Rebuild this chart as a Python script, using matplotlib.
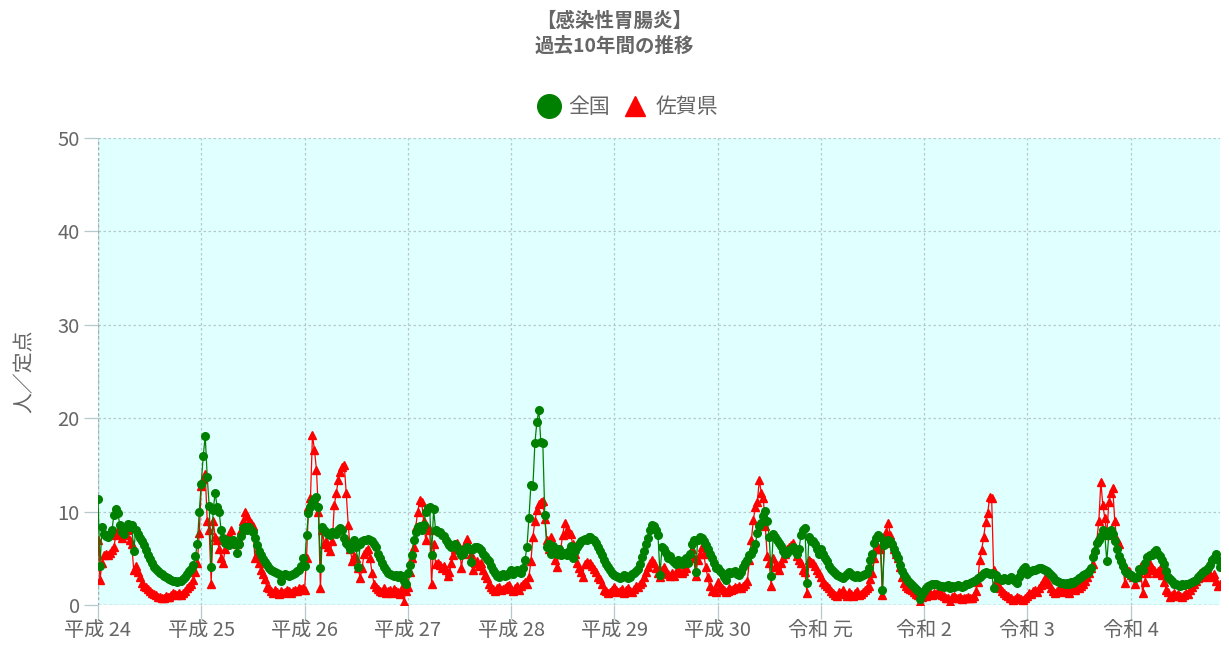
import matplotlib
matplotlib.use("Agg")
import matplotlib.pyplot as plt
from matplotlib.lines import Line2D

plt.rcParams['font.family'] = ['Noto Sans CJK JP', 'DejaVu Sans']

title_lines = ["【感染性胃腸炎】", "過去10年間の推移"]
series_names = ["全国", "佐賀県"]
year_labels = ["平成 24", "平成 25", "平成 26", "平成 27", "平成 28", "平成 29",
               "平成 30", "令和 元", "令和 2", "令和 3", "令和 4"]
y_label = "人／定点"

# 全国 (national) weekly values per year
g_h24 = [11.3, 4.2, 8.3, 7.6, 7.4, 7.3, 7.6, 8.0, 9.6, 10.3, 9.8, 8.6, 7.8, 7.6, 8.3, 8.7, 8.4, 8.6, 5.8,
         8.0, 7.6, 7.2, 6.8, 6.4, 5.9, 5.3, 4.9, 4.5, 4.1, 3.9, 3.6, 3.4, 3.3, 3.1, 3.0, 2.9, 2.8, 2.7,
         2.6, 2.6, 2.5, 2.6, 2.6, 2.8, 3.0, 3.3, 3.6, 3.9, 4.3, 5.2, 6.5, 10.0]
g_h25 = [13.0, 16.0, 18.1, 13.7, 10.6, 4.1, 10.2, 12.0, 10.5, 10.0, 8.0, 7.2, 6.6, 7.0, 6.4, 6.8, 7.0, 6.5,
         5.6, 6.5, 7.4, 8.2, 8.4, 8.0, 8.3, 8.0, 7.8, 7.2, 6.4, 5.8, 5.3, 4.9, 4.6, 4.3, 4.0, 3.8, 3.6, 3.5,
         3.4, 3.3, 2.6, 3.2, 3.3, 3.2, 3.1, 3.2, 3.3, 3.4, 3.6, 3.8, 4.2, 5.0]
g_h26 = [4.2, 7.5, 9.8, 10.5, 11.0, 11.3, 11.6, 10.5, 4.0, 8.4, 8.0, 7.8, 7.6, 7.5, 7.8, 7.7, 7.6, 8.0,
         8.2, 8.0, 7.2, 6.6, 6.4, 6.0, 6.5, 7.0, 6.2, 4.1, 6.5, 6.8, 7.0, 7.0, 7.1, 7.0, 6.8, 6.5, 6.2,
         5.5, 5.0, 4.5, 4.1, 3.7, 3.4, 3.3, 3.2, 3.1, 3.2, 3.0, 3.2, 3.1, 2.6, 2.3]
g_h27 = [3.4, 4.3, 5.3, 7.0, 7.8, 8.3, 8.5, 8.0, 8.6, 10.0, 10.4, 10.5, 5.3, 10.3, 8.0, 7.8, 7.8, 7.5,
         7.4, 7.0, 6.6, 6.4, 6.2, 6.3, 6.5, 6.2, 5.8, 5.3, 5.5, 6.0, 6.2, 6.0, 4.6, 6.0, 6.2, 6.2, 6.1,
         5.9, 5.5, 5.2, 4.9, 4.7, 4.2, 3.8, 3.4, 3.1, 3.0, 3.2, 3.3, 3.1, 3.2, 3.4]
g_h28 = [3.7, 3.3, 3.6, 3.8, 3.5, 3.4, 4.0, 4.8, 6.2, 9.3, 12.9, 12.7, 17.3, 19.6, 20.9, 17.4, 17.3, 9.6,
         6.2, 6.5, 5.5, 6.3, 5.8, 5.5, 6.0, 5.4, 5.5, 5.6, 5.3, 5.8, 6.3, 5.0, 5.8, 6.2, 6.5, 6.8, 7.0,
         7.1, 7.0, 7.3, 7.3, 7.1, 7.0, 6.6, 6.2, 5.8, 5.3, 4.8, 4.4, 4.1, 3.7, 3.4]
g_h29 = [3.2, 3.1, 3.0, 2.9, 3.0, 3.2, 3.1, 2.9, 3.0, 3.3, 3.4, 3.6, 3.9, 4.4, 5.1, 5.8, 6.5, 7.2, 8.0,
         8.6, 8.5, 8.0, 7.5, 3.2, 6.2, 6.0, 5.6, 5.0, 5.2, 4.8, 4.6, 4.4, 4.8, 4.6, 4.4, 4.8, 5.0, 4.5,
         5.5, 6.5, 7.0, 3.5, 7.0, 7.3, 7.2, 6.8, 6.4, 6.0, 5.5, 5.0, 4.5, 4.0]
g_h30 = [4.0, 3.6, 3.4, 3.0, 2.7, 3.3, 3.5, 3.4, 3.5, 3.6, 3.3, 3.2, 3.5, 4.1, 4.5, 4.8, 5.3, 5.5, 5.9,
         6.5, 7.7, 8.5, 8.8, 9.5, 10.1, 9.0, 7.3, 3.1, 7.6, 7.3, 7.0, 6.6, 6.3, 5.8, 5.5, 5.6, 5.9, 6.0,
         6.2, 5.8, 5.5, 6.0, 7.5, 8.0, 8.2, 2.4, 7.3, 6.8, 6.8, 6.5, 6.0, 5.5]
g_r01 = [6.0, 5.5, 5.0, 4.7, 4.2, 3.9, 3.6, 3.4, 3.2, 3.1, 3.0, 2.9, 3.1, 3.3, 3.5, 3.3, 3.1, 3.0, 3.2,
         3.0, 3.1, 3.2, 3.3, 3.4, 4.0, 4.8, 5.5, 6.6, 7.2, 7.5, 7.3, 1.6, 6.4, 6.6, 7.0, 6.8, 6.5, 6.0,
         5.5, 5.0, 4.3, 3.6, 3.2, 2.9, 2.6, 2.4, 2.1, 1.9, 1.7, 1.5, 0.6, 1.2]
g_r02 = [1.5, 1.8, 2.0, 2.1, 2.2, 2.3, 2.2, 2.1, 2.0, 2.0, 1.9, 2.0, 2.1, 1.8, 2.0, 1.9, 2.0, 2.1, 2.0,
         1.9, 2.0, 2.2, 2.3, 2.4, 2.5, 2.6, 2.7, 2.9, 3.0, 3.2, 3.4, 3.5, 3.4, 3.3, 3.4, 1.8, 3.2, 2.9,
         2.8, 2.7, 2.9, 2.8, 2.7, 2.9, 3.0, 2.8, 2.6, 2.4, 3.0, 3.5, 3.9, 4.1]
g_r03 = [3.3, 3.5, 3.6, 3.7, 3.8, 3.9, 4.0, 4.0, 3.9, 3.8, 3.6, 3.4, 3.2, 3.0, 2.7, 2.6, 2.5, 2.4, 2.4,
         2.3, 2.4, 2.3, 2.5, 2.4, 2.6, 2.7, 2.9, 3.0, 3.2, 3.3, 3.4, 3.6, 4.0, 5.1, 5.8, 6.6, 7.0, 7.4,
         8.0, 7.5, 4.7, 7.5, 8.0, 7.6, 6.8, 6.0, 5.2, 4.7, 4.2, 3.6, 3.4, 3.3]
g_r04 = [3.2, 3.0, 2.9, 3.0, 3.9, 3.7, 3.7, 4.5, 5.1, 5.2, 5.3, 5.4, 5.7, 5.9, 5.5, 5.2, 4.8, 4.4, 3.6,
         3.0, 2.8, 2.6, 2.3, 2.2, 2.1, 2.0, 2.2, 2.1, 2.3, 2.2, 2.4, 2.5, 2.6, 2.7, 3.0, 3.2, 3.4, 3.6,
         3.7, 4.0, 4.3, 4.8, 5.0, 5.5, 4.8, 4.1]

# 佐賀県 (Saga) weekly values per year
r_h24 = [7.0, 2.7, 4.5, 5.3, 5.5, 5.3, 5.6, 5.9, 6.2, 7.5, 8.0, 7.6, 7.2, 7.8, 7.5, 8.0, 7.0, 6.5, 3.7,
         4.2, 3.5, 3.0, 2.4, 2.0, 1.9, 1.7, 1.5, 1.3, 1.2, 1.1, 0.9, 0.9, 0.8, 0.8, 1.0, 0.9, 0.9, 1.1,
         1.3, 1.2, 1.1, 1.3, 1.1, 1.3, 1.5, 1.8, 2.0, 2.3, 2.7, 3.5, 4.5, 7.7]
r_h25 = [12.7, 13.5, 14.0, 9.0, 8.0, 2.3, 9.0, 7.3, 7.0, 6.0, 5.0, 4.5, 6.0, 7.2, 7.5, 8.0, 7.0, 6.7, 6.5,
         7.0, 8.0, 9.0, 10.0, 9.5, 9.0, 8.8, 8.5, 5.0, 5.5, 4.5, 3.7, 3.3, 2.8, 1.9, 1.8, 1.5, 1.3, 1.6,
         1.4, 1.2, 1.5, 1.3, 1.4, 1.6, 1.5, 1.3, 1.5, 1.6, 1.5, 1.8, 1.7, 1.8]
r_h26 = [1.6, 5.0, 10.5, 11.5, 18.2, 16.6, 14.5, 10.0, 1.8, 8.0, 6.5, 6.8, 6.2, 5.8, 6.8, 10.7, 12.0, 13.4,
         14.2, 14.8, 15.0, 12.0, 8.6, 6.0, 4.7, 5.2, 5.0, 4.0, 2.9, 4.0, 5.5, 5.8, 6.0, 5.0, 3.4, 2.3, 1.9,
         1.7, 1.5, 1.4, 1.8, 1.3, 1.5, 1.6, 1.3, 1.7, 1.5, 1.4, 1.2, 1.8, 0.3, 1.5]
r_h27 = [1.9, 3.5, 5.0, 6.2, 8.4, 10.0, 11.2, 11.0, 9.0, 7.0, 8.2, 8.0, 2.3, 6.5, 4.4, 4.5, 4.3, 4.0, 4.2,
         3.8, 3.1, 3.5, 4.5, 5.3, 6.0, 6.6, 6.2, 4.0, 5.5, 6.5, 7.1, 6.2, 5.5, 3.7, 4.5, 4.7, 4.2, 4.5,
         3.8, 3.2, 2.9, 2.3, 1.9, 1.7, 1.5, 1.8, 1.9, 1.6, 1.7, 1.8, 2.0, 2.1]
r_h28 = [1.7, 1.5, 1.8, 2.0, 1.6, 2.0, 2.3, 2.5, 2.2, 3.0, 4.7, 7.3, 9.0, 10.2, 10.8, 11.0, 11.1, 9.2, 7.0,
         6.0, 7.3, 6.5, 4.8, 4.1, 5.5, 6.0, 7.5, 8.8, 8.0, 7.8, 7.6, 6.5, 5.5, 4.5, 4.0, 3.5, 3.0, 4.4,
         4.6, 4.4, 4.5, 4.2, 3.9, 3.5, 3.0, 2.8, 2.2, 1.6, 1.5, 1.3, 1.4, 1.6]
r_h29 = [1.9, 1.6, 1.4, 1.5, 1.7, 1.3, 1.6, 1.8, 1.5, 1.4, 1.7, 2.0, 1.9, 2.2, 2.5, 3.0, 3.5, 4.1, 4.5,
         4.8, 4.5, 4.0, 3.4, 3.0, 3.8, 4.1, 3.5, 3.3, 3.1, 3.4, 3.1, 3.5, 3.8, 3.5, 3.4, 3.6, 4.0, 4.8,
         5.5, 6.0, 5.0, 3.1, 4.8, 5.5, 6.2, 5.5, 4.1, 3.0, 2.0, 1.5, 1.6, 1.4]
r_h30 = [2.5, 2.0, 1.8, 1.6, 1.4, 1.5, 1.8, 1.6, 1.7, 1.9, 1.8, 2.0, 1.8, 2.0, 2.2, 2.6, 4.8, 7.0, 9.1,
         10.5, 11.0, 13.4, 12.0, 11.5, 8.5, 5.2, 4.5, 2.0, 5.0, 4.1, 4.3, 3.8, 4.5, 5.0, 5.5, 6.0, 6.2,
         6.4, 6.6, 6.0, 5.2, 4.8, 4.5, 3.8, 3.5, 1.3, 4.8, 4.6, 4.5, 4.2, 3.8, 3.4]
r_r01 = [3.0, 2.5, 2.2, 2.0, 1.8, 1.5, 1.3, 1.1, 1.0, 1.4, 1.3, 1.6, 1.2, 1.0, 1.4, 1.2, 1.0, 1.3, 1.5,
         1.1, 1.2, 1.4, 1.6, 1.8, 2.0, 2.8, 3.4, 5.0, 6.0, 6.2, 6.0, 1.1, 7.0, 7.8, 8.8, 7.5, 6.6, 6.0,
         5.5, 5.0, 4.1, 3.0, 2.4, 2.0, 1.8, 1.7, 1.6, 1.4, 1.2, 1.1, 0.3, 0.9]
r_r02 = [1.2, 1.0, 1.2, 1.3, 1.1, 1.3, 1.2, 1.4, 1.3, 1.1, 1.0, 0.8, 0.7, 0.3, 0.9, 1.0, 0.8, 0.7, 0.9,
         0.6, 0.7, 0.8, 0.9, 0.7, 0.8, 1.0, 1.5, 2.5, 4.8, 5.9, 7.3, 8.9, 9.8, 11.6, 11.5, 3.8, 2.6, 2.0,
         1.8, 1.5, 1.3, 1.1, 1.0, 0.8, 0.7, 0.5, 0.6, 0.9, 0.8, 0.6, 0.5, 0.8]
r_r03 = [1.0, 1.3, 1.2, 1.5, 1.6, 1.4, 1.8, 2.1, 2.5, 2.9, 2.6, 2.2, 1.8, 1.5, 1.3, 1.5, 1.7, 1.4, 1.6,
         1.9, 1.5, 1.3, 1.8, 1.7, 1.6, 1.9, 1.8, 2.0, 2.2, 2.6, 3.0, 3.4, 4.0, 4.4, 6.0, 7.0, 9.0, 13.2,
         10.7, 9.3, 7.5, 11.0, 12.0, 12.5, 9.0, 7.0, 6.5, 5.0, 4.5, 2.4, 3.8, 3.6]
r_r04 = [3.2, 3.0, 2.3, 3.0, 3.4, 4.2, 1.3, 2.5, 3.4, 3.8, 4.4, 4.0, 3.8, 3.4, 3.6, 3.9, 3.2, 2.5, 1.6,
         1.4, 0.9, 1.1, 1.3, 1.0, 1.2, 1.0, 0.9, 1.1, 1.3, 1.2, 1.6, 1.9, 2.2, 2.6, 2.9, 3.4, 3.2, 3.0,
         3.4, 3.6, 3.2, 3.0, 3.3, 2.6, 2.0, 2.2]

green_years = [g_h24, g_h25, g_h26, g_h27, g_h28, g_h29, g_h30, g_r01, g_r02, g_r03, g_r04]
red_years = [r_h24, r_h25, r_h26, r_h27, r_h28, r_h29, r_h30, r_r01, r_r02, r_r03, r_r04]

national = [v for yr in green_years for v in yr]
saga = [v for yr in red_years for v in yr]
n = min(len(national), len(saga))
national = national[:n]
saga = saga[:n]
x = list(range(n))

tick_pos = []
pos = 0
for yr in green_years:
    tick_pos.append(pos)
    pos += len(yr)

W, H = 1229, 648
fig = plt.figure(figsize=(W / 100, H / 100), dpi=100)
ax = fig.add_axes([98 / W, 1 - 605 / H, (1220 - 98) / W, (605 - 138) / H])
ax.set_facecolor('#e0ffff')

grid_c = '#b4c8ce'
ax.plot(x, saga, color='#ff0000', lw=0.9, marker='^', ms=6, mfc='#ff0000', mec='#ff0000', zorder=3)
ax.plot(x, national, color='#008000', lw=0.9, marker='o', ms=5.5, mfc='#008000', mec='#008000', zorder=4)

ax.set_xlim(0, n - 1)
ax.set_ylim(0, 50)
ax.set_yticks(range(0, 51, 10))
ax.set_xticks(tick_pos)
ax.set_xticklabels(year_labels)
ax.grid(True, color=grid_c, lw=0.9, ls=(0, (2, 2)))
ax.set_axisbelow(True)
for s in ax.spines.values():
    s.set_visible(False)
ax.tick_params(axis='both', colors=grid_c, length=10, width=0.9, labelcolor='#666666', labelsize=14.5)
ax.tick_params(axis='y', pad=3)
ax.tick_params(axis='x', pad=1)
ax.axhline(0, color='#9aaeb4', lw=1.0, ls=(0, (2, 2)), zorder=2)
ax.axvline(0, color='#9aaeb4', lw=1.0, ls=(0, (2, 2)), zorder=2)

ax.set_ylabel(y_label, color='#666666', fontsize=15, labelpad=16)

fig.text(0.5, 1 - 21 / H, title_lines[0], ha='center', va='center', fontsize=14,
         fontweight='bold', color='#666666')
fig.text(0.5, 1 - 46 / H, title_lines[1], ha='center', va='center', fontsize=14,
         fontweight='bold', color='#666666')

handles = [Line2D([], [], ls='none', marker='o', ms=17, mfc='#008000', mec='#008000'),
           Line2D([], [], ls='none', marker='^', ms=15, mfc='#ff0000', mec='#ff0000')]
leg = fig.legend(handles, series_names, loc='center', bbox_to_anchor=(627 / W, 1 - 107 / H),
                 ncol=2, frameon=False, fontsize=15, handletextpad=0.35, columnspacing=0.6,
                 handlelength=1.2)
for t in leg.get_texts():
    t.set_color('#666666')

fig.savefig('out.png', dpi=100)
